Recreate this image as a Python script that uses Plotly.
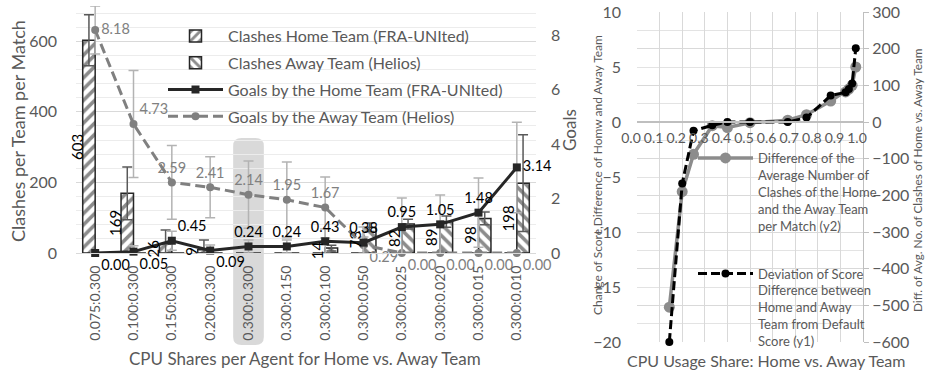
import plotly.graph_objects as go

# ---------------- data: left panel (per CPU share setting) ----------------
categories = ["0.075:0.300", "0.100:0.300", "0.150:0.300", "0.200:0.300", "0.300:0.300",
              "0.300:0.150", "0.300:0.100", "0.300:0.050", "0.300:0.025", "0.300:0.020",
              "0.300:0.015", "0.300:0.010"]
clashes_home = [603, 169, 26, 9, 0, 0, 0, 0, 0, 0, 0, 0]
clashes_away = [0, 0, 0, 0, 0, 0, 14, 73, 82, 89, 98, 198]
clashes_home_err = [72, 75, 39, 28, 0, 0, 0, 0, 0, 0, 0, 0]
clashes_away_err = [0, 0, 0, 0, 0, 0, 8, 12, 14, 16, 18, 137]
goals_home = [0.00, 0.05, 0.45, 0.09, 0.24, 0.24, 0.43, 0.38, 0.95, 1.05, 1.48, 3.14]
goals_away = [8.18, 4.73, 2.59, 2.41, 2.14, 1.95, 1.67, 0.29, 0.00, 0.00, 0.00, 0.00]
goals_home_err = [0.0, 0.22, 0.35, 0.2, 0.24, 0.24, 0.45, 0.57, 1.07, 1.08, 1.27, 1.66]
goals_away_err = [0.88, 1.96, 1.35, 1.12, 1.23, 1.39, 1.12, 0.3, 0.0, 0.0, 0.0, 0.0]
highlight_category = "0.300:0.300"

# ---------------- data: right panel (CPU usage share) ----------------
usage_share = [0.143, 0.200, 0.250, 0.333, 0.400, 0.500, 0.667, 0.750, 0.857, 0.923, 0.9375, 0.952, 0.968]
clash_diff = [-505, -190, -88, -10, -15, -2, 5, 20, 57, 82, 90, 100, 150]
score_dev = [-20.0, -5.6, -0.8, -0.3, 0.0, 0.0, 0.0, 0.4, 2.4, 2.7, 3.0, 3.5, 6.7]

FONT = "Lato"
GREY_TXT = "#595959"
W, H = 928, 371


def px_x(p):
    return p / W


def px_y(p):
    return (H - p) / H


def err(values):
    return [v if v else None for v in values]


idx = list(range(len(categories)))
fig = go.Figure()

# clash bars (hatched)
fig.add_trace(go.Bar(
    x=idx, y=clashes_home, name="Clashes Home Team (FRA-UNIted)",
    marker=dict(color="white", line=dict(color="#262626", width=1.5),
                pattern=dict(shape="/", fgcolor="#1a1a1a", bgcolor="white", size=8, solidity=0.45)),
    error_y=dict(type="data", array=err(clashes_home_err), color="#595959", thickness=1.5, width=5),
    xaxis="x", yaxis="y", legend="legend", legendrank=1, legendgroup="a"))
fig.add_trace(go.Bar(
    x=idx, y=clashes_away, name="Clashes Away Team (Helios)",
    marker=dict(color="white", line=dict(color="#262626", width=1.5),
                pattern=dict(shape="\\", fgcolor="#1a1a1a", bgcolor="white", size=8, solidity=0.45)),
    error_y=dict(type="data", array=err(clashes_away_err), color="#595959", thickness=1.5, width=5),
    xaxis="x", yaxis="y", legend="legend", legendrank=2, legendgroup="b"))

# goals lines
away_pos = ["middle right", "top right", "top center", "top center", "top center", "top center",
            "top center", "bottom right", "bottom right", "bottom right", "bottom right", "bottom right"]
home_pos = ["bottom right", "bottom right", "top right", "bottom right", "top center", "top center",
            "top center", "top center", "top center", "top center", "top center", "middle right"]
fig.add_trace(go.Scatter(
    x=idx, y=goals_away, name="Goals by the Away Team (Helios)", mode="lines+markers+text",
    line=dict(color="#808080", width=3, dash="10px,5px"),
    marker=dict(symbol="circle", size=8, color="#808080"),
    text=[f"{v:.2f}" for v in goals_away], textposition=away_pos,
    textfont=dict(family=FONT, size=14.5, color="#808080"), cliponaxis=False,
    error_y=dict(type="data", array=err(goals_away_err), color="#b3b3b3", thickness=1.5, width=5),
    xaxis="x", yaxis="y2", legend="legend", legendrank=4, legendgroup="d"))
fig.add_trace(go.Scatter(
    x=idx, y=goals_home, name="Goals by the Home Team (FRA-UNIted)", mode="lines+markers+text",
    line=dict(color="#262626", width=3),
    marker=dict(symbol="square", size=8, color="#262626"),
    text=[f"{v:.2f}" for v in goals_home], textposition=home_pos,
    textfont=dict(family=FONT, size=14.5, color="#000000"), cliponaxis=False,
    error_y=dict(type="data", array=err(goals_home_err), color="#b3b3b3", thickness=1.5, width=5),
    xaxis="x", yaxis="y2", legend="legend", legendrank=3, legendgroup="c"))

# right panel lines
fig.add_trace(go.Scatter(
    x=usage_share, y=clash_diff, mode="lines+markers", cliponaxis=False,
    name="Difference of the<br>Average Number of<br>Clashes of the Home<br>and the Away Team<br>per Match (y2)",
    line=dict(color="#8c8c8c", width=3.5), marker=dict(size=11, color="#8c8c8c"),
    xaxis="x2", yaxis="y3", legend="legend2", legendgroup="g1"))
fig.add_trace(go.Scatter(
    x=usage_share, y=score_dev, mode="lines+markers", cliponaxis=False,
    name="Deviation of Score<br>Difference between<br>Home and Away<br>Team from Default<br>Score (y1)",
    line=dict(color="#000000", width=3, dash="9px,4px"), marker=dict(size=8, color="#000000"),
    xaxis="x2", yaxis="y4", legend="legend2", legendgroup="g2"))

# rotated value labels beside the bars
annotations = []
for i, v in enumerate(clashes_home):
    if v:
        annotations.append(dict(x=i - 0.49, y=v / 2, xref="x", yref="y", text=str(v), showarrow=False,
                                textangle=-90, font=dict(family=FONT, size=15, color="#000000")))
for i, v in enumerate(clashes_away):
    if v:
        annotations.append(dict(x=i - 0.22, y=v / 2, xref="x", yref="y", text=str(v), showarrow=False,
                                textangle=-90, font=dict(family=FONT, size=15, color="#000000")))


def title(px, py, text, size, angle=0):
    return dict(x=px_x(px), y=px_y(py), xref="paper", yref="paper", text=text, textangle=angle,
                xanchor="center", yanchor="middle", showarrow=False,
                font=dict(family=FONT, size=size, color=GREY_TXT))


# axis titles
annotations += [
    title(18, 131, "Clashes per Team per Match", 18, -90),
    title(569, 130, "Goals", 17, -90),
    title(305, 358, "CPU Shares per Agent for Home vs. Away Team", 17),
    title(597, 175, "Change of Score,Difference of Homw and Away Team", 12, -90),
    title(918, 181, "Diff. of Avg. No. of Clashes of Home vs. Away Team", 11.8, -90),
    title(766, 360, "CPU Usage Share: Home vs. Away Team", 16),
]

# rounded highlight behind the reference setting
hc = categories.index(highlight_category)
x0, x1 = hc - 0.4, hc + 0.4
y0, y1 = px_y(345), px_y(138)
rx, ry = 0.22, 8 / H
hl_path = (f"M{x0 + rx},{y1} L{x1 - rx},{y1} Q{x1},{y1} {x1},{y1 - ry} L{x1},{y0 + ry} "
           f"Q{x1},{y0} {x1 - rx},{y0} L{x0 + rx},{y0} Q{x0},{y0} {x0},{y0 + ry} "
           f"L{x0},{y1 - ry} Q{x0},{y1} {x0 + rx},{y1} Z")
shapes = [dict(type="path", path=hl_path, xref="x", yref="paper", fillcolor="#d9d9d9",
               line=dict(width=0), layer="below")]

tickfont = dict(family=FONT, size=16, color=GREY_TXT)
fig.update_layout(
    width=W, height=H, margin=dict(l=0, r=0, t=0, b=0, autoexpand=False),
    paper_bgcolor="white", plot_bgcolor="rgba(0,0,0,0)",
    barmode="group", bargap=0.35, bargroupgap=0,
    font=dict(family=FONT, color=GREY_TXT),
    xaxis=dict(domain=[px_x(76), px_x(536)], range=[-0.5, 11.5], tickvals=idx, ticktext=categories,
               tickangle=-90, tickfont=dict(family=FONT, size=14, color=GREY_TXT),
               showgrid=False, showline=True, linecolor="#d9d9d9", linewidth=1, zeroline=False,
               ticklabelstandoff=6, anchor="y", automargin=False),
    yaxis=dict(domain=[px_y(253), px_y(6)], range=[0, 700], tickvals=[0, 200, 400, 600],
               tickfont=tickfont, showgrid=True, gridcolor="#d9d9d9", gridwidth=1, zeroline=False,
               minor=dict(dtick=40, showgrid=True, gridcolor="#ececec", gridwidth=1),
               ticklabelstandoff=18, anchor="x", automargin=False),
    yaxis2=dict(overlaying="y", side="right", range=[0, 9.06], tickvals=[0, 2, 4, 6, 8],
                tickfont=tickfont, showgrid=False, zeroline=False, ticklabelstandoff=14, anchor="x",
                automargin=False),
    xaxis2=dict(domain=[px_x(637), px_x(863)], range=[0, 1], dtick=0.1, tickformat=".1f",
                tickfont=dict(family=FONT, size=14, color=GREY_TXT),
                showgrid=True, gridcolor="#d9d9d9", gridwidth=1, zeroline=False,
                showline=True, linecolor="#bfbfbf", linewidth=1.5,
                anchor="free", position=px_y(122), ticklabelstandoff=3, ticklabelshift=-6,
                automargin=False),
    yaxis3=dict(domain=[px_y(342), px_y(12)], range=[-600, 300], dtick=100, side="right",
                tickfont=tickfont, showgrid=True, gridcolor="#d9d9d9", zeroline=False,
                minor=dict(dtick=50, showgrid=True, gridcolor="#e3e3e3"),
                showline=True, linecolor="#bfbfbf", ticks="outside", ticklen=5, tickcolor="#bfbfbf",
                anchor="x2", automargin=False),
    yaxis4=dict(overlaying="y3", side="left", range=[-20, 10], dtick=5,
                tickfont=tickfont, showgrid=False, zeroline=False, ticklabelstandoff=15, anchor="x2",
                automargin=False),
    legend=dict(x=px_x(163), xanchor="left", y=px_y(19), yanchor="top",
                font=dict(family=FONT, size=16, color=GREY_TXT), bgcolor="rgba(0,0,0,0)",
                itemwidth=55, traceorder="grouped", tracegroupgap=3),
    legend2=dict(x=px_x(693), xanchor="left", y=px_y(143), yanchor="top",
                 font=dict(family=FONT, size=13, color=GREY_TXT), bgcolor="rgba(0,0,0,0)",
                 itemwidth=55, traceorder="grouped", tracegroupgap=28, valign="top"),
    annotations=annotations, shapes=shapes,
)

fig.write_html("out.html")
